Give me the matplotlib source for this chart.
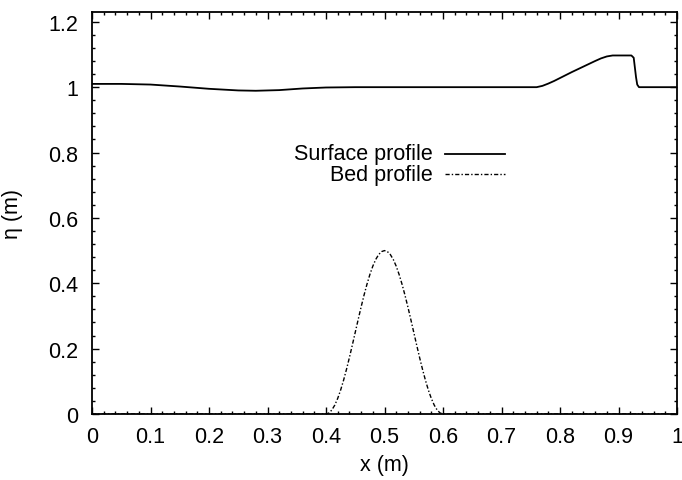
import matplotlib
matplotlib.use("Agg")
import matplotlib.pyplot as plt
from matplotlib.ticker import MultipleLocator, FixedLocator

plt.rcParams['font.family'] = ['Liberation Sans', 'DejaVu Sans']

# Free-surface elevation along the channel
surface_x = [0.00, 0.05, 0.10, 0.15, 0.20, 0.25, 0.28, 0.32, 0.36, 0.40, 0.45,
             0.76, 0.77, 0.78, 0.79, 0.80, 0.82, 0.84, 0.86, 0.87, 0.88, 0.89,
             0.91, 0.922, 0.926, 0.928, 0.930, 0.932, 0.935, 1.00]
surface_eta = [1.010, 1.010, 1.008, 1.002, 0.995, 0.990, 0.989, 0.991, 0.996, 0.999, 1.000,
               1.000, 1.004, 1.011, 1.019, 1.028, 1.046, 1.063, 1.080, 1.088, 1.094, 1.097,
               1.097, 1.097, 1.090, 1.060, 1.030, 1.008, 1.000, 1.000]

# Bed bump centred at x = 0.5
bed_x = [0.00, 0.400, 0.405, 0.410, 0.415, 0.420, 0.425, 0.430, 0.435, 0.440, 0.445,
         0.450, 0.455, 0.460, 0.465, 0.470, 0.475, 0.480, 0.485, 0.490, 0.495, 0.500,
         0.505, 0.510, 0.515, 0.520, 0.525, 0.530, 0.535, 0.540, 0.545, 0.550,
         0.555, 0.560, 0.565, 0.570, 0.575, 0.580, 0.585, 0.590, 0.595, 0.600, 1.00]
bed_eta = [0.0, 0.0, 0.0031, 0.0122, 0.0272, 0.0477, 0.0732, 0.1031, 0.1365, 0.1727, 0.2109,
           0.2500, 0.2891, 0.3273, 0.3635, 0.3969, 0.4268, 0.4523, 0.4728, 0.4878, 0.4969, 0.5000,
           0.4969, 0.4878, 0.4728, 0.4523, 0.4268, 0.3969, 0.3635, 0.3273, 0.2891, 0.2500,
           0.2109, 0.1727, 0.1365, 0.1031, 0.0732, 0.0477, 0.0272, 0.0122, 0.0031, 0.0, 0.0]

x_ticks = [0, 0.1, 0.2, 0.3, 0.4, 0.5, 0.6, 0.7, 0.8, 0.9, 1]
x_tick_labels = ['0', '0.1', '0.2', '0.3', '0.4', '0.5', '0.6', '0.7', '0.8', '0.9', '1']
y_ticks = [0, 0.2, 0.4, 0.6, 0.8, 1.0, 1.2]
y_tick_labels = ['0', '0.2', '0.4', '0.6', '0.8', '1', '1.2']

FS = 15.5
bed_style = (0, (3, 1.5, 1, 1.5))

fig = plt.figure(figsize=(6.82, 4.81), dpi=100)
ax = fig.add_axes([92 / 682, 66 / 481, 585 / 682, 402 / 481])

ax.plot(surface_x, surface_eta, color='black', lw=1.3)
ax.plot(bed_x, bed_eta, color='black', lw=1.0, linestyle=bed_style)

ax.set_xlim(0, 1)
ax.set_ylim(0, 1.23)
ax.xaxis.set_major_locator(FixedLocator(x_ticks))
ax.set_xticklabels(x_tick_labels)
ax.yaxis.set_major_locator(FixedLocator(y_ticks))
ax.set_yticklabels(y_tick_labels)
ax.xaxis.set_minor_locator(MultipleLocator(0.02))
ax.yaxis.set_minor_locator(MultipleLocator(0.04))

ax.tick_params(which='both', direction='in', top=True, right=True, width=1.0,
               labelsize=FS, colors='black')
ax.tick_params(which='major', length=5)
ax.tick_params(which='minor', length=2.5)
ax.tick_params(axis='x', pad=9)
ax.tick_params(axis='y', pad=10)
for s in ax.spines.values():
    s.set_linewidth(1.3)

ax.set_xlabel('x (m)', fontsize=FS, labelpad=5)
ax.set_ylabel('η (m)', fontsize=FS, labelpad=18)

# Key: labels to the left, line samples to the right
key_items = [('Surface profile', dict(color='black', lw=1.3, linestyle='-'), 0.647),
             ('Bed profile', dict(color='black', lw=1.0, linestyle=bed_style), 0.597)]
for label, style, yk in key_items:
    ax.text(0.583, yk, label, transform=ax.transAxes, ha='right', va='center', fontsize=FS)
    ax.plot([0.603, 0.706], [yk, yk], transform=ax.transAxes, **style)

fig.savefig('out.png', dpi=100)
